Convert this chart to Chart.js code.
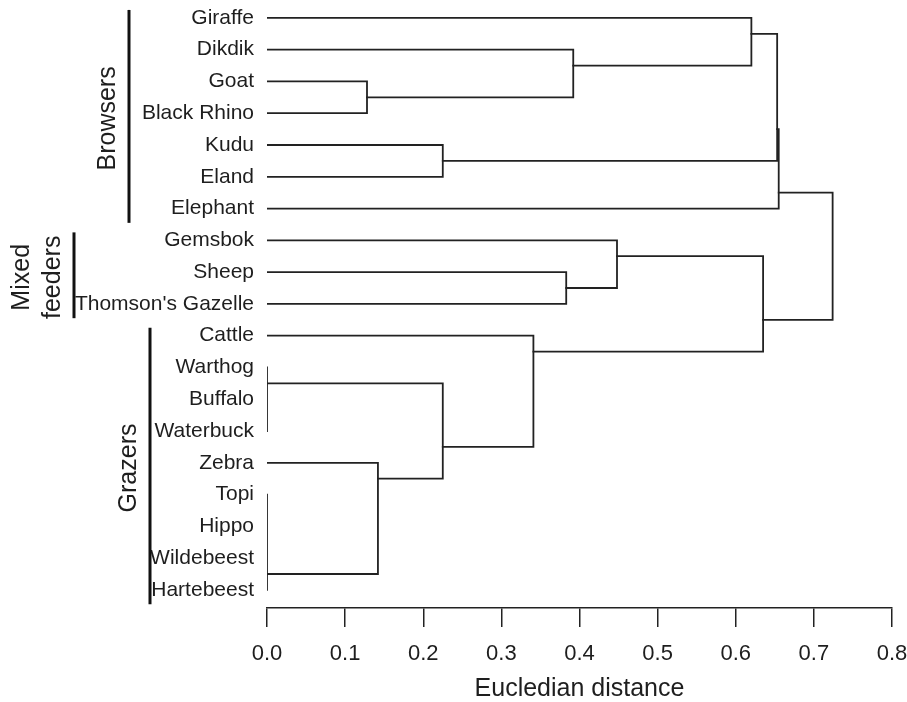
<!DOCTYPE html>
<html><head><meta charset="utf-8">
<script src="https://cdn.jsdelivr.net/npm/chart.js@4.4.1/dist/chart.umd.min.js"></script>
<style>html,body{margin:0;padding:0;background:#fff;} canvas{display:block;}</style>
</head><body>
<canvas id="c" width="907" height="702"></canvas>
<script>
// ---- data ----
const leaves = ["Giraffe","Dikdik","Goat","Black Rhino","Kudu","Eland","Elephant","Gemsbok","Sheep","Thomson's Gazelle","Cattle","Warthog","Buffalo","Waterbuck","Zebra","Topi","Hippo","Wildebeest","Hartebeest"];
// merges: negative = leaf (1-based index), positive = earlier merge (1-based index)
const mergeChildren = [[-3,-4],[-5,-6],[-2,1],[-1,3],[4,2],[5,-7],[-9,-10],[-8,7],[-12,-13,-14],[-16,-17,-18,-19],[-15,10],[9,11],[-11,12],[8,13],[6,14]];
const mergeHeights = [0.128,0.225,0.392,0.620,0.653,0.655,0.383,0.448,0,0,0.142,0.225,0.341,0.635,0.724];
// branch position of each merge, in leaf-order units
const mergePositions = [2.5,4.5,1.5,0.5,3.5,5.5,8.5,7.5,11.5,17.5,14.5,13.5,10.5,9.5,7.5];
const xTicks = [0,0.1,0.2,0.3,0.4,0.5,0.6,0.7,0.8];
const axisTitle = "Eucledian distance";
const groupNames = [["Browsers"],["Mixed","feeders"],["Grazers"]];
const groupFirst = [0,7,10];
const groupLast = [6,9,18];

// ---- build dendrogram polylines ----
function nodeH(c){ return c < 0 ? 0 : mergeHeights[c-1]; }
function nodeP(c){ return c < 0 ? -c-1 : mergePositions[c-1]; }
const lineColor = '#222';
const datasets = [];
mergeChildren.forEach((ch, i) => {
  const h = mergeHeights[i];
  const sorted = ch.slice().sort((a,b) => nodeP(a) - nodeP(b));
  const first = sorted[0], last = sorted[sorted.length-1];
  const pts = [];
  if (nodeH(first) < h) pts.push({x: nodeH(first), y: nodeP(first)});
  pts.push({x: h, y: nodeP(first)});
  pts.push({x: h, y: nodeP(last)});
  if (nodeH(last) < h) pts.push({x: nodeH(last), y: nodeP(last)});
  datasets.push({data: pts});
  sorted.slice(1, -1).forEach(c => {
    if (nodeH(c) < h) datasets.push({data: [{x: nodeH(c), y: nodeP(c)}, {x: h, y: nodeP(c)}]});
  });
});
datasets.forEach(d => Object.assign(d, {showLine: true, borderColor: lineColor, borderWidth: 1.8, pointRadius: 0, fill: false, tension: 0, borderJoinStyle: 'miter', borderCapStyle: 'square'}));

const FONT = '"Liberation Sans", Arial, Helvetica, sans-serif';
const textColor = '#1e1e1e';

const groupPlugin = {
  id: 'groups',
  afterDraw(chart) {
    const {ctx, scales: {y}} = chart;
    const barX = [129, 74, 150];
    ctx.save();
    groupNames.forEach((lines, g) => {
      const y0 = y.getPixelForValue(groupFirst[g] - 0.25);
      const y1 = y.getPixelForValue(groupLast[g] + 0.45);
      ctx.strokeStyle = '#111';
      ctx.lineWidth = 3;
      ctx.beginPath(); ctx.moveTo(barX[g], y0); ctx.lineTo(barX[g], y1); ctx.stroke();
      const cy = (y0 + y1) / 2 + 2;
      ctx.fillStyle = textColor;
      ctx.font = '25px ' + FONT;
      ctx.textAlign = 'center';
      ctx.textBaseline = 'middle';
      lines.forEach((t, k) => {
        const cx = barX[g] - 21 - (lines.length - 1 - k) * 31;
        ctx.save();
        ctx.translate(cx, cy);
        ctx.rotate(-Math.PI / 2);
        ctx.fillText(t, 0, 0);
        ctx.restore();
      });
    });
    ctx.restore();
  }
};

new Chart(document.getElementById('c'), {
  type: 'scatter',
  data: {datasets},
  options: {
    responsive: false,
    animation: false,
    devicePixelRatio: 1,
    layout: {padding: {top: 2, right: 15, left: 0, bottom: 0}},
    plugins: {legend: {display: false}, tooltip: {enabled: false}},
    scales: {
      x: {
        type: 'linear', position: 'bottom', min: 0, max: 0.8,
        afterBuildTicks: s => { s.ticks = xTicks.map(v => ({value: v})); },
        afterFit: s => { s.height = 94; s.paddingLeft = 0; s.paddingRight = 0; },
        grid: {display: true, drawOnChartArea: false, drawTicks: true, tickLength: 19, color: '#222', lineWidth: 1.5},
        border: {display: true, color: '#222', width: 1.5},
        ticks: {padding: 14, color: textColor, maxRotation: 0, font: {family: FONT, size: 22}, callback: v => Number(v).toFixed(1)},
        title: {display: true, text: axisTitle, color: textColor, font: {family: FONT, size: 25, lineHeight: 1}, padding: {top: 0, bottom: 0}}
      },
      y: {
        type: 'linear', position: 'left', reverse: true, min: -0.5, max: 18.57,
        afterBuildTicks: s => { s.ticks = leaves.map((_, i) => ({value: i})); },
        afterFit: s => { s.width = 267; s.paddingTop = 0; s.paddingBottom = 0; },
        grid: {display: false},
        border: {display: false},
        ticks: {autoSkip: false, padding: 5, color: textColor, font: {family: FONT, size: 21}, callback: v => leaves[v]}
      }
    }
  },
  plugins: [groupPlugin]
});
</script>
</body></html>
